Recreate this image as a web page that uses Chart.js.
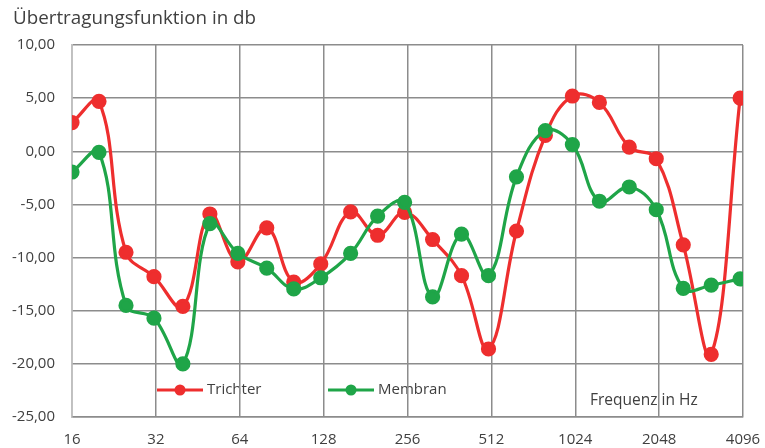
<!DOCTYPE html>
<html>
<head>
<meta charset="utf-8">
<script src="https://cdn.jsdelivr.net/npm/chart.js@4.4.0/dist/chart.umd.min.js"></script>
<style>
  body { margin: 0; background: #fff; }
  canvas { display: block; }
</style>
</head>
<body>
<canvas id="chart" width="765" height="448"></canvas>
<script>
// Terzmittenfrequenzen (Hz)
const freqs = [16, 20, 25, 31.5, 40, 50, 63, 80, 100, 125, 160, 200, 250, 315, 400, 500, 630, 800, 1000, 1250, 1600, 2000, 2500, 3150, 4000];
const trichter = [2.7, 4.7, -9.5, -11.8, -14.6, -5.9, -10.4, -7.2, -12.3, -10.6, -5.7, -7.9, -5.75, -8.3, -11.7, -18.6, -7.5, 1.5, 5.2, 4.6, 0.4, -0.7, -8.8, -19.1, 5.0];
const membran = [-1.95, -0.1, -14.5, -15.7, -20.0, -6.8, -9.6, -11.0, -12.95, -11.9, -9.6, -6.1, -4.8, -13.7, -7.8, -11.7, -2.4, 1.95, 0.63, -4.7, -3.36, -5.5, -12.9, -12.6, -12.0];
const xTicks = [16, 32, 64, 128, 256, 512, 1024, 2048, 4096];

const red = '#ee2e2e';
const green = '#1fa548';
const gridColor = '#8c8c8c';

Chart.defaults.font.family = "'Open Sans', sans-serif";
Chart.defaults.color = '#404040';

// Legende + Beschriftungen im Plotbereich (vor dem Gitter gezeichnet, wie im Original)
const overlay = {
    id: 'overlay',
    beforeDraw(chart) {
        const ctx = chart.ctx;
        ctx.save();
        ctx.font = "15px 'Open Sans', sans-serif";
        ctx.fillStyle = '#404040';
        ctx.textBaseline = 'middle';
        const items = [
            { label: 'Trichter', color: red, x: 157 },
            { label: 'Membran', color: green, x: 328 }
        ];
        const y = 390;
        items.forEach(it => {
            ctx.strokeStyle = it.color;
            ctx.lineWidth = 3;
            ctx.beginPath();
            ctx.moveTo(it.x, y);
            ctx.lineTo(it.x + 46, y);
            ctx.stroke();
            ctx.fillStyle = it.color;
            ctx.beginPath();
            ctx.arc(it.x + 23, y, 5.5, 0, Math.PI * 2);
            ctx.fill();
            ctx.fillStyle = '#404040';
            ctx.fillText(it.label, it.x + 50, y);
        });
        ctx.font = "15.5px 'Open Sans', sans-serif";
        ctx.fillText('Frequenz in Hz', 590, 401);
        ctx.restore();
    },
    afterDraw(chart) {
        const ctx = chart.ctx;
        ctx.save();
        ctx.font = "18.8px 'Open Sans', sans-serif";
        ctx.fillStyle = '#404040';
        ctx.textBaseline = 'middle';
        ctx.fillText('Übertragungsfunktion in db', 13, 19);
        ctx.restore();
    }
};

new Chart(document.getElementById('chart'), {
    type: 'line',
    data: {
        datasets: [{
            label: 'Trichter',
            data: freqs.map((f, i) => ({ x: f, y: trichter[i] })),
            borderColor: red,
            backgroundColor: red,
            borderWidth: 3.2,
            pointRadius: 6,
            pointHoverRadius: 6,
            tension: 0.4,
            order: 1
        }, {
            label: 'Membran',
            data: freqs.map((f, i) => ({ x: f, y: membran[i] })),
            borderColor: green,
            backgroundColor: green,
            borderWidth: 3.2,
            pointRadius: 6,
            pointHoverRadius: 6,
            tension: 0.4,
            order: 0
        }]
    },
    options: {
        responsive: false,
        animation: false,
        layout: { autoPadding: false, padding: { top: 45, right: 22, left: 0, bottom: 0 } },
        plugins: {
            legend: { display: false },
            tooltip: { enabled: false }
        },
        scales: {
            x: {
                type: 'logarithmic',
                min: 16,
                max: 4096,
                afterBuildTicks: scale => { scale.ticks = xTicks.map(v => ({ value: v })); },
                afterFit: scale => {
                    scale.height = 31;
                    scale.paddingLeft = 0;
                    scale.paddingRight = 0;
                },
                grid: { color: gridColor, lineWidth: 1.5, drawTicks: false },
                border: { color: gridColor, width: 1.5 },
                ticks: {
                    autoSkip: false,
                    maxRotation: 0,
                    padding: 14,
                    font: { size: 15 },
                    callback: v => String(v)
                }
            },
            y: {
                min: -25,
                max: 10,
                afterFit: scale => { scale.width = 72; },
                grid: { color: gridColor, lineWidth: 1.5, drawTicks: false },
                border: { color: '#c0c0c0', width: 1.5 },
                ticks: {
                    stepSize: 5,
                    padding: 17,
                    font: { size: 15 },
                    callback: v => v.toFixed(2).replace('.', ',')
                }
            }
        }
    },
    plugins: [overlay]
});
</script>
</body>
</html>
